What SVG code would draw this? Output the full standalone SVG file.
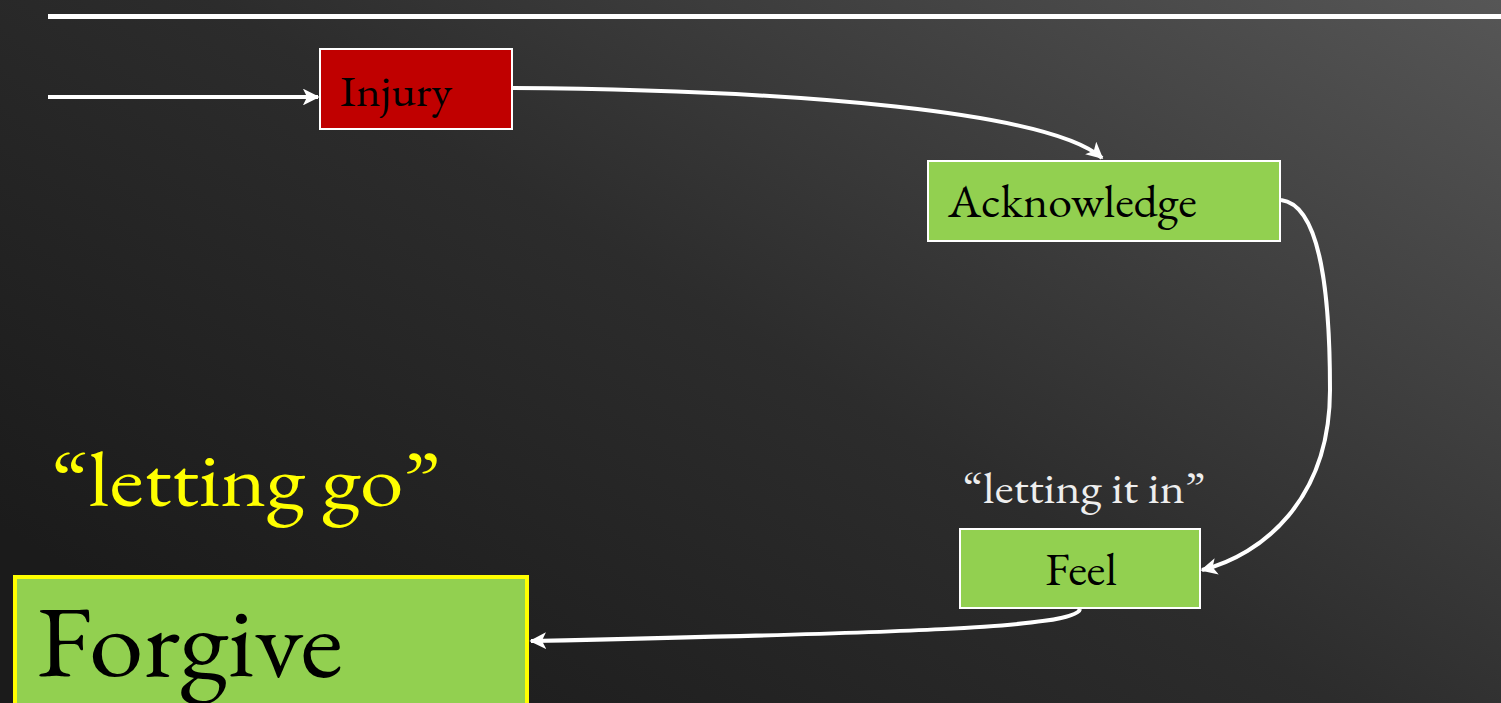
<svg xmlns="http://www.w3.org/2000/svg" width="1501" height="703" viewBox="0 0 1501 703">
<defs>
<linearGradient id="bg" x1="0" y1="0.75" x2="1" y2="0">
<stop offset="0" stop-color="#1b1b1b"/>
<stop offset="0.45" stop-color="#2c2c2c"/>
<stop offset="1" stop-color="#565656"/>
</linearGradient>
<marker id="ah" viewBox="0 0 10 10" refX="9" refY="5" markerWidth="4.2" markerHeight="4.2" orient="auto" markerUnits="strokeWidth">
<path d="M0,0 L10,5 L0,10 L2.5,5 z" fill="#ffffff"/>
</marker>
<style>
.box{stroke:#ffffff;stroke-width:2}
.green{fill:#92d050}
.lbl{font-family:"EB Garamond","Liberation Serif",serif;fill:#000000}
.conn{fill:none;stroke:#ffffff;stroke-width:4;marker-end:url(#ah)}
</style>
</defs>
<rect x="0" y="0" width="1501" height="703" fill="url(#bg)"/>
<rect x="48" y="14" width="1453" height="5" fill="#ffffff"/>
<g id="connectors">
<path class="conn" d="M48,97 L318,97"/>
<path class="conn" d="M513,88 C800,90 1050,112 1102,158"/>
<path class="conn" d="M1281,200 C1322,205 1330,300 1330,390 C1330,500 1262,555 1202,570"/>
<path class="conn" d="M1080,609 C1076,628 900,633 531,641"/>
</g>
<g id="injury">
<rect class="box" x="320" y="49" width="192" height="80" fill="#c00000"/>
<text class="lbl" x="340" y="106" font-size="43" textLength="112" lengthAdjust="spacingAndGlyphs">Injury</text>
</g>
<g id="acknowledge">
<rect class="box green" x="928" y="161" width="352" height="80"/>
<text class="lbl" x="948" y="217" font-size="45" textLength="249" lengthAdjust="spacingAndGlyphs">Acknowledge</text>
</g>
<g id="feel">
<rect class="box green" x="960" y="529" width="240" height="79"/>
<text class="lbl" x="1045" y="585" font-size="45" textLength="72" lengthAdjust="spacingAndGlyphs">Feel</text>
</g>
<text x="963" y="503" font-size="42" fill="#eeeeee" font-family="EB Garamond, Liberation Serif, serif" textLength="242" lengthAdjust="spacingAndGlyphs">“letting it in”</text>
<g id="forgive">
<rect x="15" y="577" width="512" height="140" fill="#92d050" stroke="#ffff00" stroke-width="4"/>
<text class="lbl" x="36" y="676" font-size="100" textLength="307" lengthAdjust="spacingAndGlyphs">Forgive</text>
</g>
<text x="52" y="506" font-size="76" fill="#ffff00" font-family="EB Garamond, Liberation Serif, serif" textLength="388" lengthAdjust="spacingAndGlyphs">“letting go”</text>
</svg>
